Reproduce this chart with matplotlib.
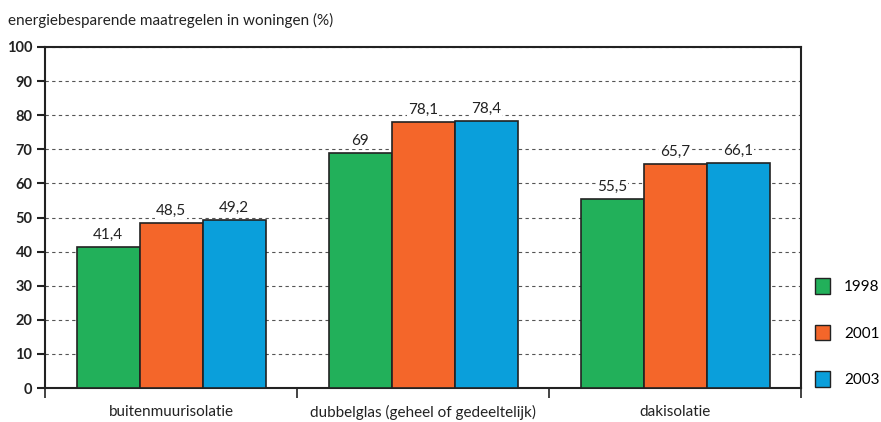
import numpy as np
import matplotlib.pyplot as plt
from matplotlib.patches import Patch

plt.rcParams['font.family'] = ['Lato', 'DejaVu Sans']

categories = ['buitenmuurisolatie', 'dubbelglas (geheel of gedeeltelijk)', 'dakisolatie']
years = ['1998', '2001', '2003']
v1998 = [41.4, 69, 55.5]
v2001 = [48.5, 78.1, 65.7]
v2003 = [49.2, 78.4, 66.1]
labels1998 = ['41,4', '69', '55,5']
labels2001 = ['48,5', '78,1', '65,7']
labels2003 = ['49,2', '78,4', '66,1']
colors = ['#22b05a', '#f4662a', '#0a9fdb']

fig = plt.figure(figsize=(8.81, 4.22), dpi=100)
ax = fig.add_axes([45/881, 34/422, 756/881, 341/422])

x = np.arange(len(categories))
w = 0.25
series = [v1998, v2001, v2003]
labs = [labels1998, labels2001, labels2003]
for i, (vals, lab) in enumerate(zip(series, labs)):
    pos = x + (i - 1) * w
    ax.bar(pos, vals, w, color=colors[i], edgecolor='#222222', linewidth=1.2, zorder=3)
    for p, v, t in zip(pos, vals, lab):
        ax.text(p, v + 1.5, t, ha='center', va='bottom', fontsize=11, color='#222222',
                zorder=4, bbox=dict(facecolor='white', edgecolor='none', pad=1))

ax.set_xlim(-0.5, 2.5)
ax.set_ylim(0, 100)
ax.set_yticks(np.arange(0, 101, 10))
ax.set_xticks(x)
ax.set_xticklabels(categories, fontsize=11, color='#222222')
ax.set_xticks([-0.5, 0.5, 1.5, 2.5], minor=True)
ax.tick_params(axis='x', which='major', length=0, pad=12)
ax.tick_params(axis='x', which='minor', length=7, width=1.2, color='#222222', direction='out')
ax.tick_params(axis='y', length=6, width=1.5, color='#222222', labelsize=10.5,
               labelcolor='#222222', pad=3)
for lbl in ax.get_yticklabels():
    lbl.set_fontweight('bold')
ax.yaxis.grid(True, linestyle=(0, (3, 3)), color='#555555', linewidth=0.8, zorder=0)
ax.set_axisbelow(True)
for s in ax.spines.values():
    s.set_linewidth(1.5)
    s.set_color('#222222')

fig.text(8/881, 1 - 20/422, 'energiebesparende maatregelen in woningen (%)', fontsize=11,
         color='#222222', va='center', ha='left')

handles = [Patch(facecolor=c, edgecolor='#222222', linewidth=1.0) for c in colors]
fig.legend(handles, years, loc='upper left', bbox_to_anchor=(815/881, 1 - 278/422),
           frameon=False, handlelength=1.0, handleheight=1.2, labelspacing=2.0,
           handletextpad=0.9, borderpad=0, borderaxespad=0, fontsize=11)

fig.savefig('out.png', dpi=100)
